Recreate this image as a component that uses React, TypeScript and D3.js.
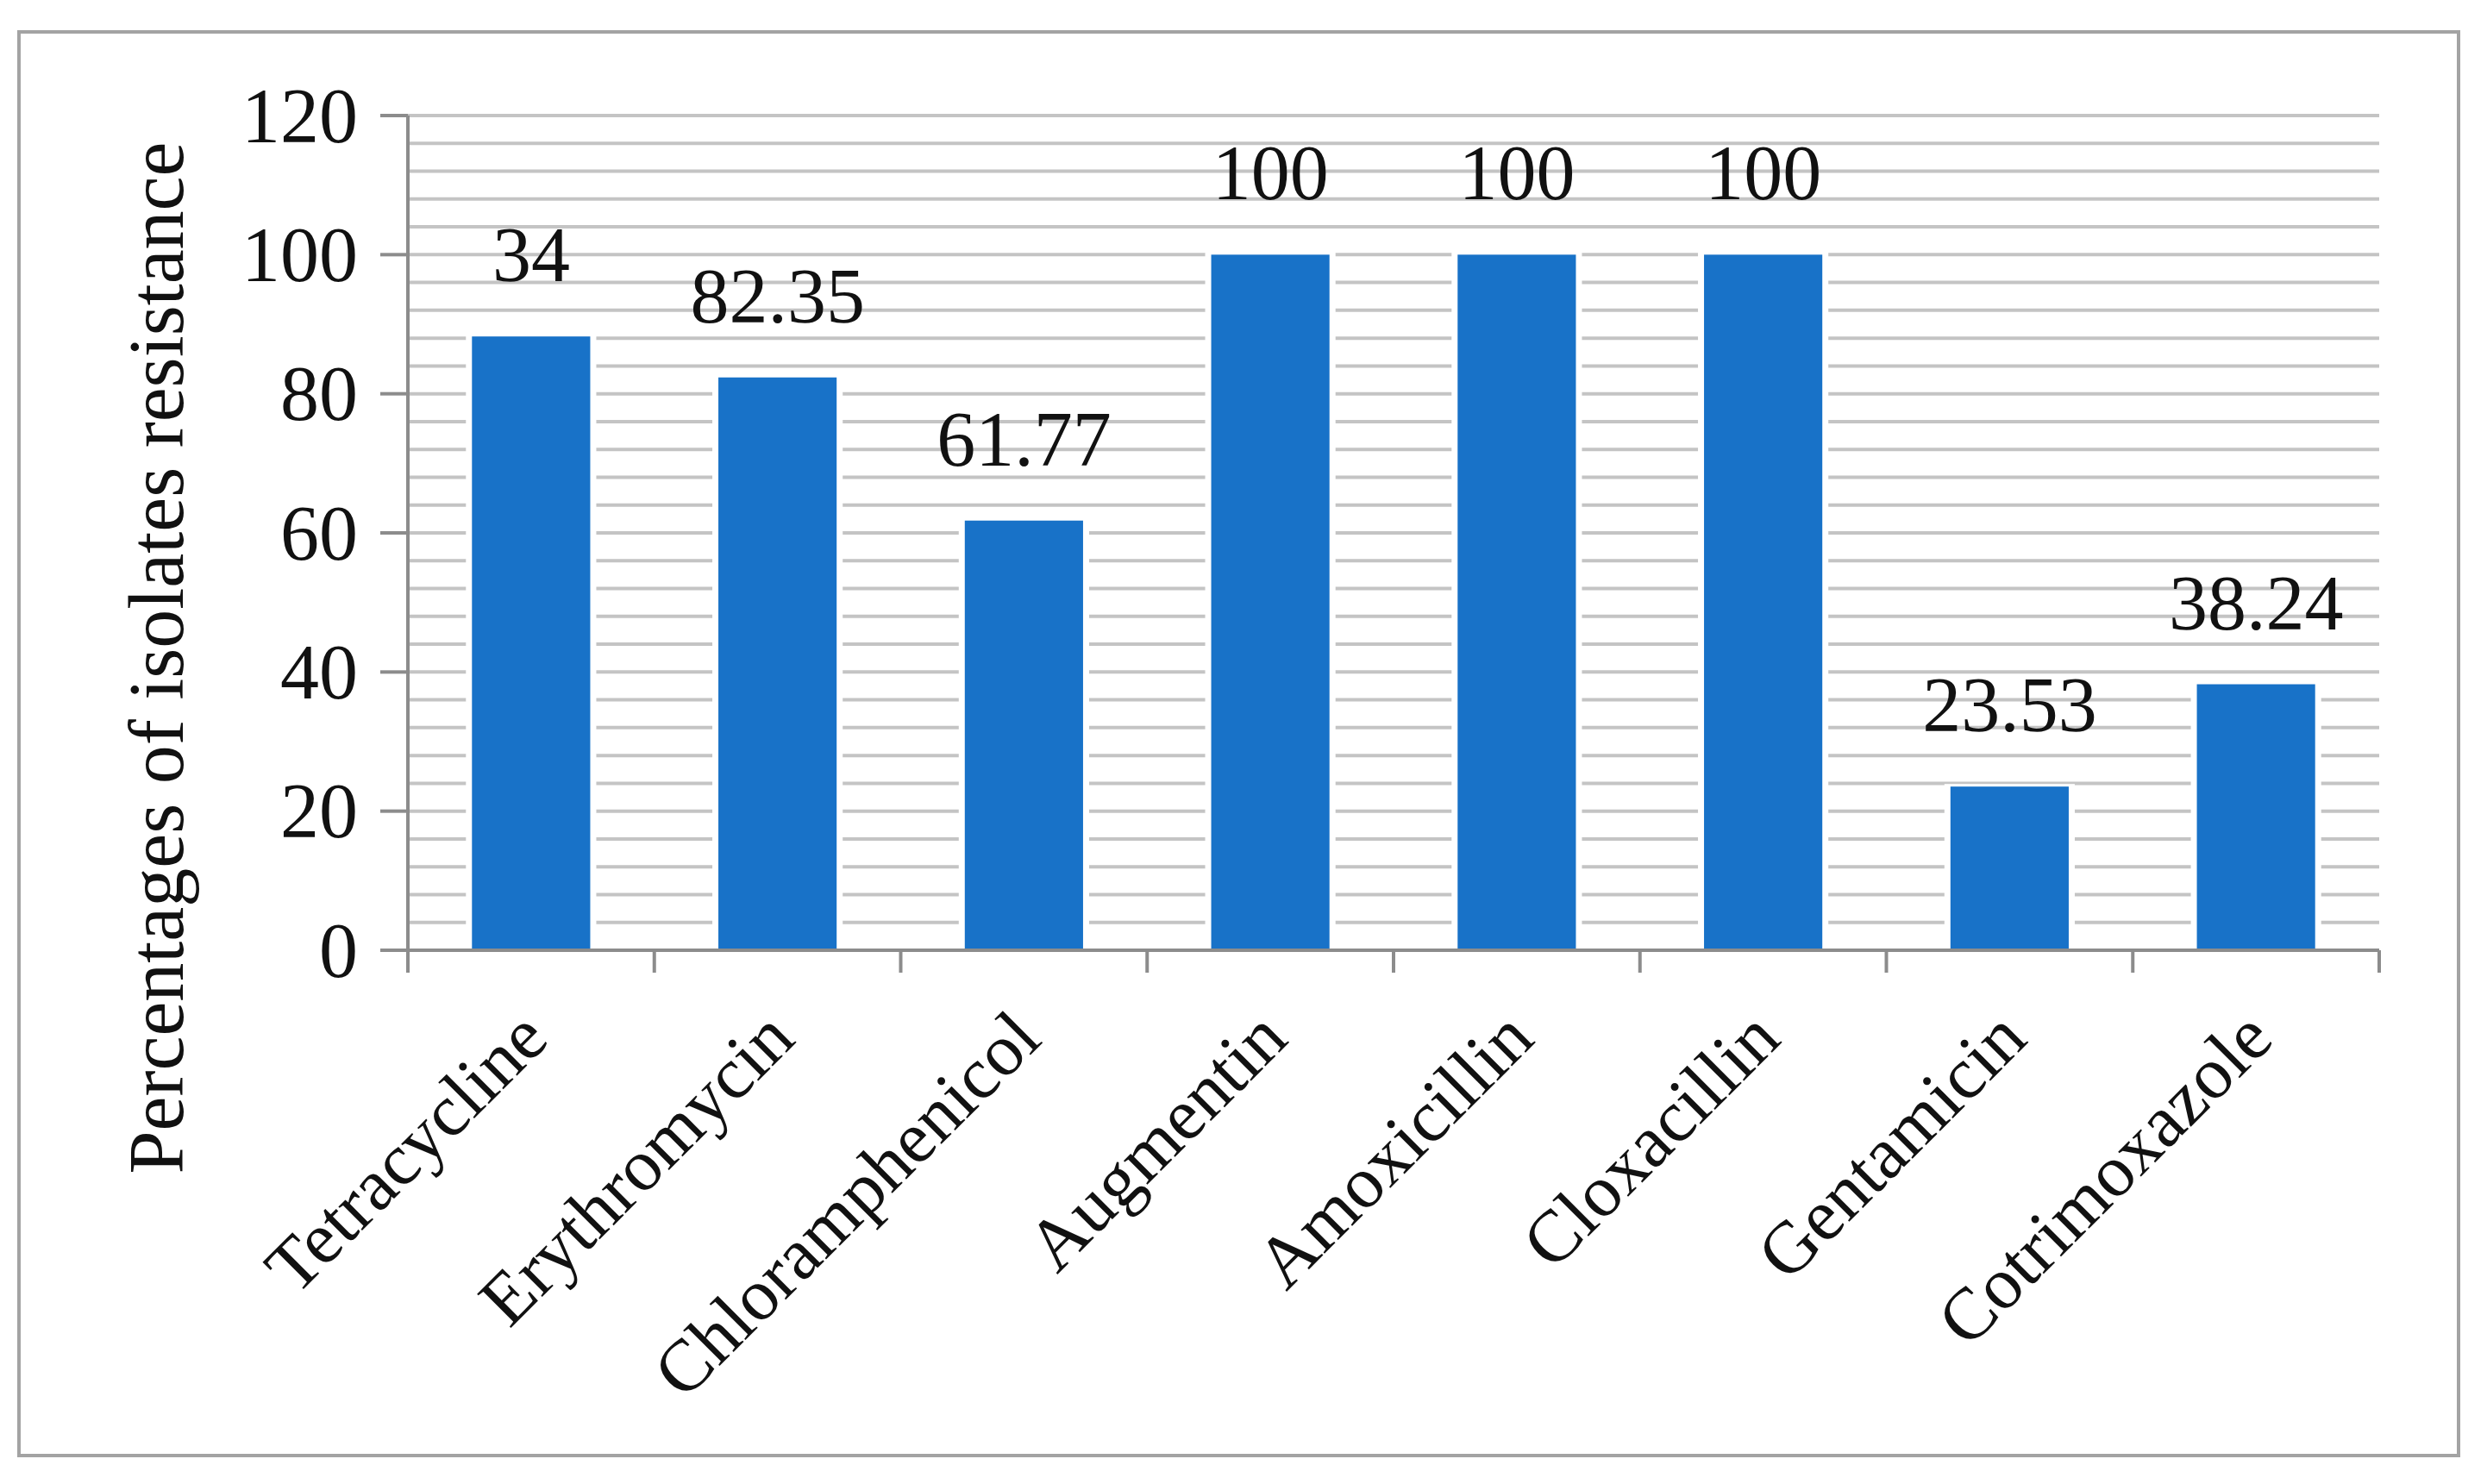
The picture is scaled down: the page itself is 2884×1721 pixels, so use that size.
import { scaleBand, scaleLinear, range } from 'd3'

const width = 2884
const height = 1721
const margin = { top: 134, right: 125, bottom: 619, left: 473 }

const drugs = [
  'Tetracycline',
  'Erythromycin',
  'Chloramphenicol',
  'Augmentin',
  'Amoxicillin',
  'Cloxacillin',
  'Gentamicin',
  'Cotrimoxazole',
]
const resistance = [88.24, 82.35, 61.77, 100, 100, 100, 23.53, 38.24]
// labels as printed in the figure (first one reads 34, not the bar height)
const valueLabels = ['34', '82.35', '61.77', '100', '100', '100', '23.53', '38.24']
const yTicks = [0, 20, 40, 60, 80, 100, 120]

const font = '"Liberation Serif", "DejaVu Serif", serif'
const barColor = '#1872c8'
const gridColor = '#c4c4c4'
const axisColor = '#8c8c8c'

function App() {
  const innerWidth = width - margin.left - margin.right
  const innerHeight = height - margin.top - margin.bottom

  const xScale = scaleBand()
    .domain(drugs)
    .range([0, innerWidth])
    .paddingInner(0.52)
    .paddingOuter(0.26)

  const yScale = scaleLinear().domain([0, 120]).range([innerHeight, 0])

  const step = xScale.step()
  const minorTicks = range(4, 121, 4)

  return (
    <svg
      width={width}
      height={height}
      style={{ position: 'absolute', left: 0, top: 0, display: 'block' }}
    >
      <rect x={0} y={0} width={width} height={height} fill="white" />
      <rect
        x={22}
        y={37}
        width={2829}
        height={1651}
        fill="white"
        stroke="#a3a3a3"
        strokeWidth={4}
      />
      <g transform={`translate(${margin.left},${margin.top})`}>
        {minorTicks.map((t) => (
          <line
            key={t}
            x1={0}
            x2={innerWidth}
            y1={yScale(t)}
            y2={yScale(t)}
            stroke={gridColor}
            strokeWidth={4}
          />
        ))}

        {drugs.map((d, i) => (
          <g key={d}>
            <rect
              x={xScale(d) - 7}
              y={yScale(resistance[i]) - 3}
              width={xScale.bandwidth() + 14}
              height={innerHeight - yScale(resistance[i]) + 1}
              fill="white"
            />
            <rect
              x={xScale(d)}
              y={yScale(resistance[i])}
              width={xScale.bandwidth()}
              height={innerHeight - yScale(resistance[i])}
              fill={barColor}
            />
            <text
              x={xScale(d) + xScale.bandwidth() / 2}
              y={yScale(resistance[i]) - 64}
              textAnchor="middle"
              fontFamily={font}
              fontSize={90}
              fill="#111"
            >
              {valueLabels[i]}
            </text>
          </g>
        ))}

        {/* y axis */}
        <line x1={0} x2={0} y1={0} y2={innerHeight + 26} stroke={axisColor} strokeWidth={4} />
        {yTicks.map((t) => (
          <g key={t} transform={`translate(0,${yScale(t)})`}>
            <line x1={-32} x2={0} stroke={axisColor} strokeWidth={4} />
            <text
              x={-58}
              dy="0.34em"
              textAnchor="end"
              fontFamily={font}
              fontSize={90}
              fill="#111"
            >
              {t}
            </text>
          </g>
        ))}

        {/* x axis */}
        <line x1={0} x2={innerWidth} y1={innerHeight} y2={innerHeight} stroke={axisColor} strokeWidth={4} />
        {range(drugs.length + 1).map((i) => (
          <line
            key={i}
            x1={i * step}
            x2={i * step}
            y1={innerHeight}
            y2={innerHeight + 26}
            stroke={axisColor}
            strokeWidth={4}
          />
        ))}
        {drugs.map((d) => (
          <text
            key={d}
            transform={`translate(${xScale(d) + xScale.bandwidth() / 2 + 2},${innerHeight + 85}) rotate(-45)`}
            textAnchor="end"
            dy="0.35em"
            fontFamily={font}
            fontSize={85}
            fill="#111"
          >
            {d}
          </text>
        ))}
      </g>

      <text
        transform={`translate(212,763) rotate(-90)`}
        textAnchor="middle"
        fontFamily={font}
        fontSize={90}
        fill="#111"
      >
        Percentages of isolates resistance
      </text>
    </svg>
  )
}

export default App
